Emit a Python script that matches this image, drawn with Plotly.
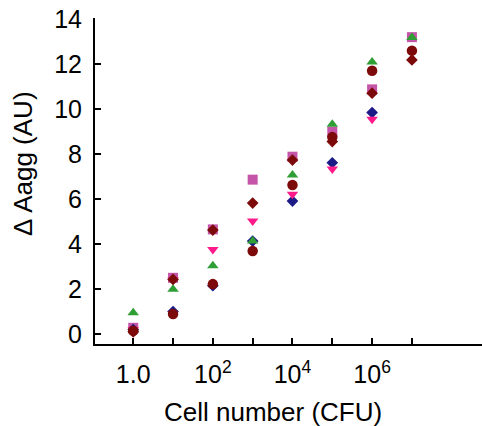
import plotly.graph_objects as go

# Cell numbers (log10 CFU) and aggregation response for each replicate series
log_cfu = [0, 1, 2, 3, 4, 5, 6, 7]

sq_orchid = [0.28, 2.50, 4.65, 6.86, 7.88, 8.99, 10.87, 13.19]
dia_navy = [0.20, 1.00, 2.15, 4.13, 5.91, 7.61, 9.84, None]
tri_pink = [0.20, 2.40, 3.76, 5.02, 6.21, 7.33, 9.54, None]
circ_red = [0.15, 0.89, 2.22, 3.69, 6.62, 8.75, 11.70, 12.59]
dia_red = [0.10, 2.43, 4.62, 5.82, 7.73, 8.55, 10.70, 12.18]
tri_green = [0.95, 1.99, 3.04, 4.13, 7.07, 9.32, 12.09, 13.17]

x_tickvals = [0, 2, 4, 6]
x_ticktext = ["1.0", "10<sup>2</sup>", "10<sup>4</sup>", "10<sup>6</sup>"]
x_minorvals = [1, 3, 5, 7]
y_tickvals = [0, 2, 4, 6, 8, 10, 12, 14]

series = [
    (sq_orchid, "square", "#c455a8", 10),
    (dia_navy, "diamond", "#1c1a86", 9),
    (tri_pink, "triangle-down", "#ff1a8c", 10),
    (circ_red, "circle", "#7d0a0a", 10.5),
    (dia_red, "diamond", "#7d0a0a", 9),
    (tri_green, "triangle-up", "#2e9e35", 10),
]

fig = go.Figure()
for ys, sym, col, sz in series:
    fig.add_trace(go.Scatter(
        x=log_cfu, y=ys, mode="markers",
        marker=dict(symbol=sym, color=col, size=sz, line=dict(width=0)),
        showlegend=False,
    ))

font = "Liberation Sans, Arial, sans-serif"

fig.update_layout(
    width=482, height=426,
    margin=dict(l=95, r=0, t=18, b=82),
    paper_bgcolor="white", plot_bgcolor="white",
    font=dict(family=font, color="black"),
    xaxis=dict(
        range=[-0.96, 8.76], tickvals=x_tickvals, ticktext=x_ticktext,
        ticks="inside", ticklen=6, tickwidth=2, tickcolor="black",
        minor=dict(tickvals=x_minorvals, ticks="inside", ticklen=6, tickwidth=2,
                   tickcolor="black", showgrid=False),
        showline=True, linecolor="black", linewidth=2,
        showgrid=False, zeroline=False, tickfont=dict(size=25, family=font),
        ticklabelstandoff=7,
    ),
    yaxis=dict(
        range=[-0.44, 14.04], tickvals=y_tickvals,
        ticks="inside", ticklen=6, tickwidth=2, tickcolor="black",
        showline=True, linecolor="black", linewidth=2,
        showgrid=False, zeroline=False, tickfont=dict(size=25, family=font),
        ticklabelstandoff=6,
    ),
    annotations=[
        dict(text="Cell number (CFU)", x=273, y=412, showarrow=False,
             font=dict(size=26, family=font)),
        dict(text="Δ Aagg (AU)", x=23, y=164, textangle=-90, showarrow=False,
             font=dict(size=26, family=font)),
    ],
)

# place the axis titles in pixel coordinates of the page
W, H = 482, 426
L, R, T, B = 95, 0, 18, 82
pw, ph = W - L - R, H - T - B
for a in fig.layout.annotations:
    a.x = (a.x - L) / pw
    a.y = 1 - (a.y - T) / ph
    a.xref = "paper"
    a.yref = "paper"
    a.xanchor = "center"
    a.yanchor = "middle"

fig.write_html("out.html")
